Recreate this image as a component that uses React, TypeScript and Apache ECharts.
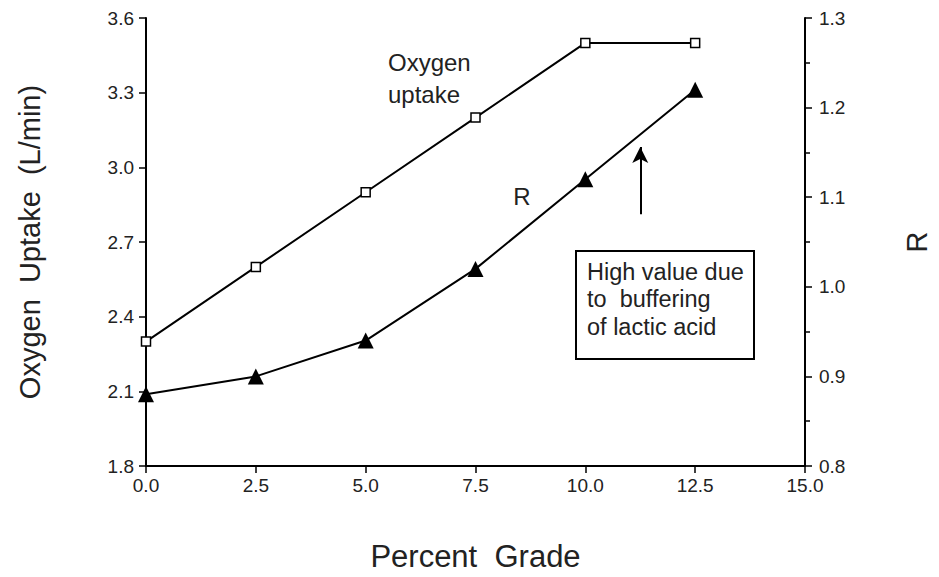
import React, { useEffect, useRef } from "react";
import * as echarts from "echarts";

const grades = [0, 2.5, 5, 7.5, 10, 12.5];
const oxygenUptake = [2.3, 2.6, 2.9, 3.2, 3.5, 3.5];
const rValues = [0.88, 0.9, 0.94, 1.02, 1.12, 1.22];
const noteLines = ["High value due", "to  buffering", "of lactic acid"];

const FONT = "Liberation Sans, Arial, Helvetica, sans-serif";

export default function App() {
  const ref = useRef<HTMLDivElement>(null);
  useEffect(() => {
    if (!ref.current) return;
    const chart = echarts.init(ref.current, null, { renderer: "svg" });
    const axisCommon = {
      axisLine: { show: true, lineStyle: { color: "#000", width: 2 } },
      axisTick: { show: true, length: 7, lineStyle: { color: "#000", width: 1.5 } },
      splitLine: { show: false },
      axisLabel: { color: "#222", fontSize: 19, fontFamily: FONT },
      nameTextStyle: { color: "#222", fontSize: 29, fontFamily: FONT },
    };
    chart.setOption({
      animation: false,
      backgroundColor: "#fff",
      grid: { left: 146, right: 121, top: 18, bottom: 102, containLabel: false },
      xAxis: {
        type: "value",
        min: 0,
        max: 15,
        interval: 2.5,
        name: "Percent  Grade",
        nameLocation: "middle",
        nameGap: 75,
        ...axisCommon,
        nameTextStyle: { ...axisCommon.nameTextStyle, fontSize: 31 },
        axisLabel: { ...axisCommon.axisLabel, margin: 10, formatter: (v: number) => v.toFixed(1) },
      },
      yAxis: [
        {
          type: "value",
          min: 1.8,
          max: 3.6,
          interval: 0.3,
          position: "left",
          name: "Oxygen  Uptake  (L/min)",
          nameLocation: "middle",
          nameGap: 102,
          ...axisCommon,
          axisLabel: { ...axisCommon.axisLabel, margin: 12, formatter: (v: number) => v.toFixed(1) },
        },
        {
          type: "value",
          min: 0.8,
          max: 1.3,
          interval: 0.1,
          position: "right",
          name: "R",
          nameLocation: "middle",
          nameGap: 97,
          ...axisCommon,
          minorTick: { show: true, splitNumber: 2, length: 5, lineStyle: { color: "#000", width: 1.5 } },
          axisLabel: { ...axisCommon.axisLabel, margin: 14, formatter: (v: number) => v.toFixed(1) },
        },
      ],
      series: [
        {
          type: "line",
          yAxisIndex: 0,
          data: grades.map((g, i) => [g, oxygenUptake[i]]),
          symbol: "rect",
          symbolSize: 9,
          itemStyle: { color: "#fff", borderColor: "#000", borderWidth: 1.5 },
          lineStyle: { color: "#000", width: 2 },
          z: 3,
        },
        {
          type: "line",
          yAxisIndex: 1,
          data: grades.map((g, i) => [g, rValues[i]]),
          symbol: "triangle",
          symbolSize: 16,
          itemStyle: { color: "#000" },
          lineStyle: { color: "#000", width: 2 },
          z: 3,
          markLine: {
            silent: true,
            symbol: ["none", "arrow"],
            symbolSize: [12, 16],
            label: { show: false },
            lineStyle: { color: "#000", width: 2, type: "solid" },
            data: [[{ coord: [11.25, 1.081] }, { coord: [11.25, 1.156] }]],
          },
        },
      ],
      graphic: [
        {
          type: "text",
          x: 388,
          y: 46,
          style: { text: "Oxygen\nuptake", font: `24px ${FONT}`, fill: "#222", lineHeight: 32 },
        },
        {
          type: "text",
          x: 522,
          y: 196,
          style: { text: "R", font: `24px ${FONT}`, fill: "#222", align: "center", verticalAlign: "middle" },
        },
        {
          type: "rect",
          shape: { x: 576, y: 251, width: 178, height: 108 },
          style: { fill: "#fff", stroke: "#000", lineWidth: 2 },
        },
        {
          type: "text",
          x: 587,
          y: 258,
          style: { text: noteLines.join("\n"), font: `23.5px ${FONT}`, fill: "#222", lineHeight: 27.5 },
        },
      ],
    });
    return () => chart.dispose();
  }, []);
  return <div ref={ref} style={{ position: "absolute", left: 0, top: 0, width: 939, height: 577 }} />;
}
